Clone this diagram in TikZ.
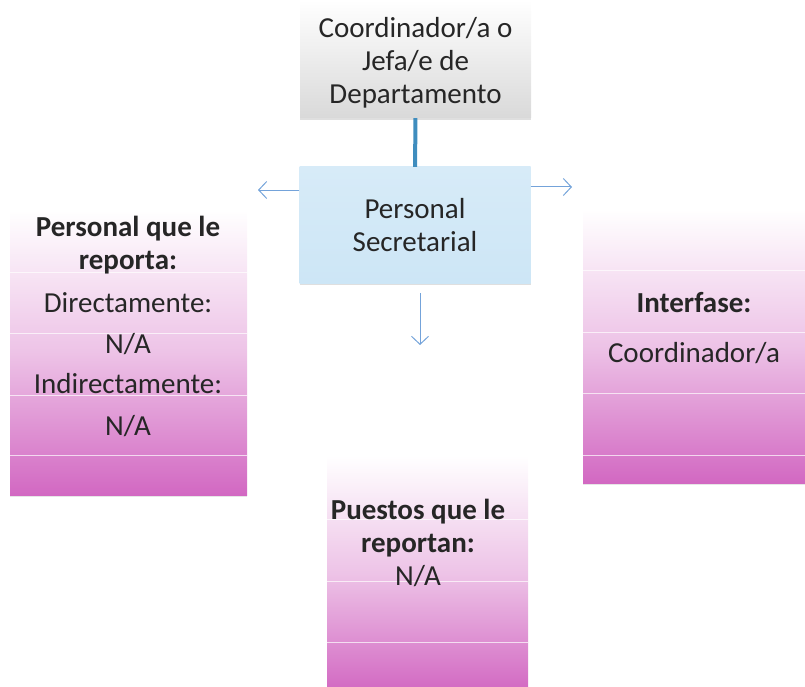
\documentclass[tikz,border=0pt]{standalone}
\usepackage{fontspec}
\setmainfont{Carlito}
\usepackage{tikz}
\usetikzlibrary{arrows.meta,shadows}
\definecolor{boxgray}{HTML}{D9D9D9}
\definecolor{boxblue}{HTML}{CDE6F6}
\definecolor{orchid}{HTML}{D268C2}
\definecolor{linkblue}{HTML}{3F8DBE}
\definecolor{arrowblue}{HTML}{74A3DA}
\definecolor{txt}{HTML}{262626}

\begin{document}
\begin{tikzpicture}[x=1pt,y=-1pt,
    font=\fontsize{29}{33}\selectfont,text=txt,
    card/.style={inner sep=0pt,align=center,drop shadow={shadow xshift=0pt,shadow yshift=-2pt,opacity=0.25}},
    list/.style={inner sep=0pt,top color=white,bottom color=orchid,middle color=orchid!40,
      drop shadow={shadow xshift=0pt,shadow yshift=-2pt,opacity=0.2}},
    title/.style={font=\fontsize{29}{33}\selectfont\bfseries,align=center},
    band/.style={white,line width=1pt,opacity=0.7},
    hint/.style={arrowblue,line width=1pt,-{Straight Barb[length=8pt,width=17pt]}}]
        \useasboundingbox (0,0) rectangle (805,687);
        % Boxes
        \node[list,minimum width=237pt,minimum height=285pt] (rep) at (128.5,352.5) {};
        \node[list,minimum width=223pt,minimum height=274pt] (inter) at (694.5,346) {};
        \node[list,minimum width=201pt,minimum height=236pt] (puestos) at (427.5,574) {};
        \foreach \y in {272,333,395,455} \draw[band] (rep.west |- 0,\y) -- (rep.east |- 0,\y);
        \foreach \y in {270,332,393,455} \draw[band] (inter.west |- 0,\y) -- (inter.east |- 0,\y);
        \foreach \y in {519,581,642} \draw[band] (puestos.west |- 0,\y) -- (puestos.east |- 0,\y);
        \node[card,minimum width=231pt,minimum height=118pt,top color=white,bottom color=boxgray] (jefe) at (415.5,59) {};
        \node[align=center] (jefetxt) at (415.5,63) {Coordinador/a o\\Jefa/e de\\Departamento};
        \node[card,minimum width=231pt,minimum height=116pt,top color=boxblue!80,bottom color=boxblue] (sec) at (415,225) {Personal\\Secretarial};
        % Texts in the lists
        \node[title] (rephead) at (128,245) {Personal que le\\reporta:};
        \node (dir) at (128,303) {Directamente:};
        \node (dirna) at (128,344) {N/A};
        \node (ind) at (128,384) {Indirectamente:};
        \node (indna) at (128,426) {N/A};
        \node[title] (interhead) at (694,303) {Interfase:};
        \node (coord) at (694,353) {Coordinador/a};
        \node[title] (puehead) at (418,528) {Puestos que le\\reportan:};
        \node (puena) at (418,576) {N/A};
        % Connectors
        \draw[line width=4pt,linkblue] (jefe) -- (sec);
        \coordinate (toleft) at (258,190);
        \coordinate (toright) at (572,187);
        \coordinate (todown) at (420,345);
        \draw[hint] (sec.west |- toleft) -- (toleft);
        \draw[hint] (sec.east |- toright) -- (toright);
        \draw[hint] ([yshift=-10pt]sec.south -| todown) -- (todown);
      \end{tikzpicture}
\end{document}
